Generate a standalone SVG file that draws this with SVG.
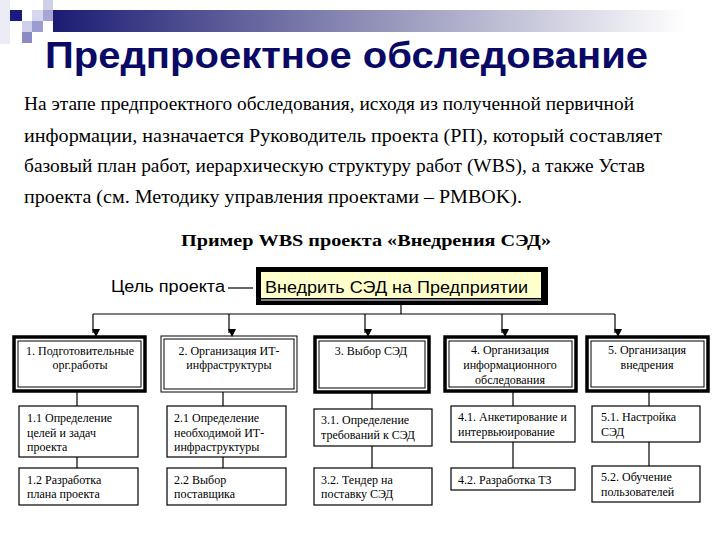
<svg xmlns="http://www.w3.org/2000/svg" width="720" height="540" viewBox="0 0 720 540">
<defs>
<linearGradient id="bar" x1="0" y1="0" x2="1" y2="0">
<stop offset="0" stop-color="#1c1c74"/>
<stop offset="0.45" stop-color="#8a8ab4"/>
<stop offset="0.95" stop-color="#ffffff"/>
</linearGradient>
<marker id="arr" markerWidth="8" markerHeight="8" refX="4" refY="7" orient="auto-start-reverse" markerUnits="userSpaceOnUse" viewBox="0 0 8 8">
<path d="M0,0 L8,0 L4,8 Z" transform="rotate(-90 4 4)" fill="#000"/>
</marker>
<style>
.ser{font-family:"Liberation Serif","Times New Roman",serif;fill:#000}
.san{font-family:"Liberation Sans",Arial,sans-serif;fill:#000}
.para{font-size:18.5px}
.l1{font-size:12px;text-anchor:middle}
.l2{font-size:12px}
.thick{fill:#fff;stroke:#000;stroke-width:3.5}
.thin{fill:none;stroke:#000;stroke-width:1}
.box{fill:#fff;stroke:#000;stroke-width:1.2}
.ln{stroke:#000;stroke-width:1.2;fill:none}
</style>
</defs>
<rect width="720" height="540" fill="#fff"/>
<g id="decor">
<rect x="53" y="10" width="667" height="22" fill="url(#bar)"/>
<rect x="0" y="0" width="10" height="44" fill="#ececf6"/>
<rect x="43" y="0" width="10" height="10" fill="#cfcfe9"/>
<rect x="10" y="10" width="12" height="11" fill="#1a1a80"/>
<rect x="32" y="10" width="11" height="11" fill="#d6d6ee"/>
<rect x="43" y="10" width="10" height="11" fill="#a6a6d2"/>
<rect x="22" y="21" width="10" height="11" fill="#d0d0ea"/>
<rect x="32" y="21" width="11" height="11" fill="#9c9cce"/>
<rect x="22" y="32" width="10" height="11" fill="#8a8ac4"/>
</g>
<text x="45" y="68" class="san" font-size="37" font-weight="bold" style="fill:#0a0a66" textLength="603" lengthAdjust="spacingAndGlyphs">Предпроектное обследование</text>
<g id="paragraph" class="ser para">
<text x="24" y="110" textLength="610" lengthAdjust="spacingAndGlyphs">На этапе предпроектного обследования, исходя из полученной первичной</text>
<text x="24" y="142" textLength="638" lengthAdjust="spacingAndGlyphs">информации, назначается Руководитель проекта (РП), который составляет</text>
<text x="24" y="172" textLength="621" lengthAdjust="spacingAndGlyphs">базовый план работ, иерархическую структуру работ (WBS), а также Устав</text>
<text x="24" y="203" textLength="498" lengthAdjust="spacingAndGlyphs">проекта (см. Методику управления проектами – PMBOK).</text>
</g>
<text x="181" y="246" class="ser" font-size="17" font-weight="bold" textLength="370" lengthAdjust="spacingAndGlyphs">Пример WBS проекта «Внедрения СЭД»</text>
<text x="111" y="292" class="san" font-size="16" textLength="114" lengthAdjust="spacingAndGlyphs">Цель проекта</text>
<g id="connectors">
<line x1="228" y1="288" x2="253" y2="288" class="ln"/>
<line x1="401" y1="305" x2="401" y2="314" class="ln"/>
<line x1="93" y1="314" x2="615" y2="314" class="ln"/>
<line x1="93" y1="314" x2="93" y2="333" class="ln" marker-end="url(#arr)"/>
<line x1="229" y1="314" x2="229" y2="333" class="ln" marker-end="url(#arr)"/>
<line x1="365" y1="314" x2="365" y2="333" class="ln" marker-end="url(#arr)"/>
<line x1="502" y1="314" x2="502" y2="333" class="ln" marker-end="url(#arr)"/>
<line x1="615" y1="314" x2="615" y2="333" class="ln" marker-end="url(#arr)"/>
<line x1="77" y1="392" x2="77" y2="406" class="ln"/>
<line x1="77" y1="457" x2="77" y2="468" class="ln"/>
<line x1="223" y1="392" x2="223" y2="406" class="ln"/>
<line x1="223" y1="457" x2="223" y2="468" class="ln"/>
<line x1="372" y1="393" x2="372" y2="409" class="ln"/>
<line x1="372" y1="446" x2="372" y2="468" class="ln"/>
<line x1="513" y1="392" x2="513" y2="406" class="ln"/>
<line x1="513" y1="442" x2="513" y2="468" class="ln"/>
<line x1="649" y1="392" x2="649" y2="406" class="ln"/>
<line x1="649" y1="442" x2="649" y2="466" class="ln"/>
</g>
<g id="root">
<rect x="256" y="267" width="292" height="38" fill="#000"/>
<rect x="261" y="272" width="280" height="26" fill="#ffffcc"/>
<line x1="261" y1="300" x2="541" y2="300" stroke="#fff" stroke-width="1"/>
<text x="265" y="293" class="san" font-size="17" textLength="263" lengthAdjust="spacingAndGlyphs">Внедрить СЭД на Предприятии</text>
</g>
<g id="n1">
<rect x="14" y="337" width="131" height="54" class="thick"/>
<rect x="18" y="341" width="123" height="46" class="thin"/>
<text x="80" y="355" class="ser l1">1. Подготовительные</text>
<text x="80" y="369" class="ser l1">орг.работы</text>
</g>
<g id="n2">
<rect x="161" y="336" width="136" height="56" class="thin"/>
<rect x="164" y="339" width="130" height="50" class="thin"/>
<text x="229" y="355" class="ser l1">2. Организация ИТ-</text>
<text x="229" y="369" class="ser l1">инфраструктуры</text>
</g>
<g id="n3">
<rect x="315" y="337" width="114" height="55" class="thick"/>
<rect x="319" y="341" width="106" height="47" class="thin"/>
<text x="371" y="355" class="ser l1">3. Выбор СЭД</text>
</g>
<g id="n4">
<rect x="445" y="337" width="131" height="54" class="thick"/>
<rect x="449" y="341" width="123" height="46" class="thin"/>
<text x="510" y="354" class="ser l1">4. Организация</text>
<text x="510" y="369" class="ser l1">информационного</text>
<text x="510" y="384" class="ser l1">обследования</text>
</g>
<g id="n5">
<rect x="587" y="337" width="121" height="54" class="thick"/>
<rect x="591" y="341" width="113" height="46" class="thin"/>
<text x="647" y="354" class="ser l1">5. Организация</text>
<text x="647" y="369" class="ser l1">внедрения</text>
</g>
<g id="n11">
<rect x="19" y="406" width="119" height="51" class="box"/>
<text x="27" y="422" class="ser l2">1.1 Определение</text>
<text x="27" y="437" class="ser l2">целей и задач</text>
<text x="27" y="451" class="ser l2">проекта</text>
</g>
<g id="n12">
<rect x="19" y="468" width="119" height="37" class="box"/>
<text x="27" y="484" class="ser l2">1.2 Разработка</text>
<text x="27" y="498" class="ser l2">плана проекта</text>
</g>
<g id="n21">
<rect x="167" y="406" width="119" height="51" class="box"/>
<text x="174" y="422" class="ser l2">2.1 Определение</text>
<text x="174" y="437" class="ser l2">необходимой ИТ-</text>
<text x="174" y="451" class="ser l2">инфраструктуры</text>
</g>
<g id="n22">
<rect x="167" y="468" width="119" height="37" class="box"/>
<text x="174" y="484" class="ser l2">2.2 Выбор</text>
<text x="174" y="498" class="ser l2">поставщика</text>
</g>
<g id="n31">
<rect x="314" y="409" width="118" height="37" class="box"/>
<text x="321" y="424" class="ser l2">3.1. Определение</text>
<text x="321" y="439" class="ser l2">требований к СЭД</text>
</g>
<g id="n32">
<rect x="314" y="468" width="118" height="37" class="box"/>
<text x="321" y="484" class="ser l2">3.2. Тендер на</text>
<text x="321" y="498" class="ser l2">поставку СЭД</text>
</g>
<g id="n41">
<rect x="451" y="406" width="124" height="36" class="box"/>
<text x="458" y="421" class="ser l2">4.1. Анкетирование и</text>
<text x="458" y="436" class="ser l2">интервьюирование</text>
</g>
<g id="n42">
<rect x="451" y="468" width="124" height="22" class="box"/>
<text x="458" y="484" class="ser l2">4.2. Разработка ТЗ</text>
</g>
<g id="n51">
<rect x="592" y="406" width="108" height="36" class="box"/>
<text x="601" y="421" class="ser l2">5.1. Настройка</text>
<text x="601" y="436" class="ser l2">СЭД</text>
</g>
<g id="n52">
<rect x="592" y="466" width="108" height="36" class="box"/>
<text x="601" y="481" class="ser l2">5.2. Обучение</text>
<text x="601" y="496" class="ser l2">пользователей</text>
</g>
</svg>
